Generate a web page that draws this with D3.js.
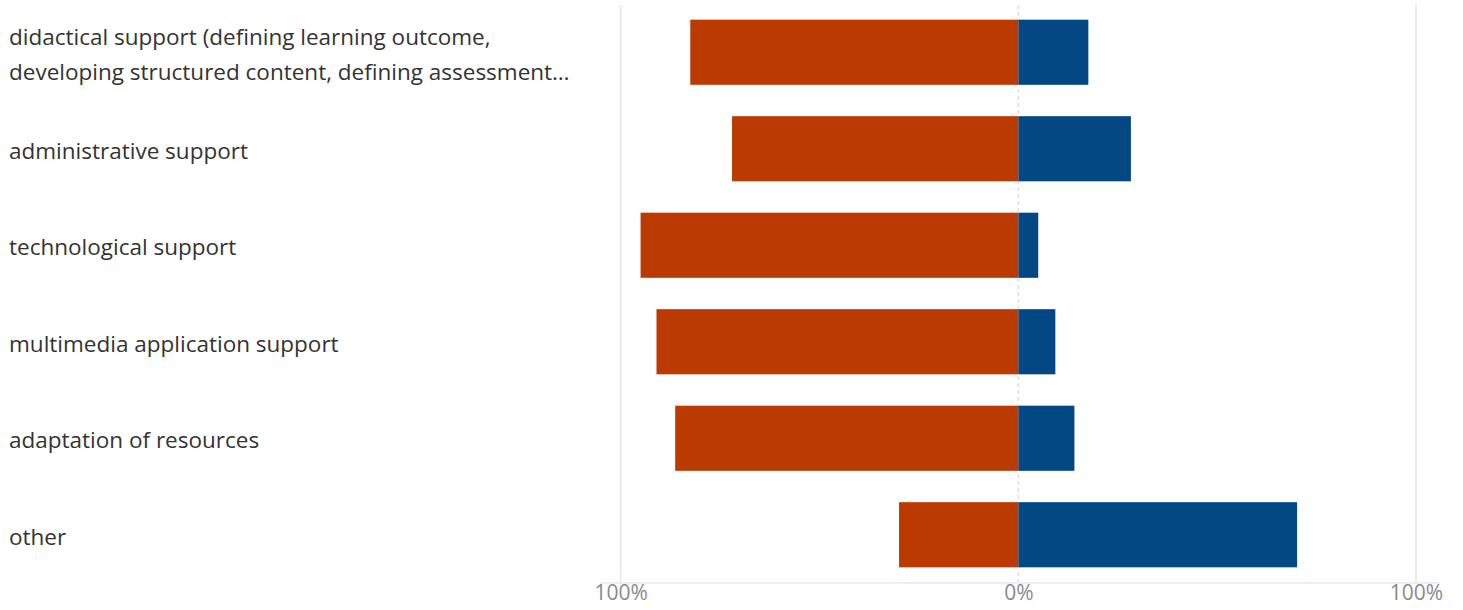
<!DOCTYPE html>
<html>
<head>
<meta charset="utf-8">
<script src="https://cdn.jsdelivr.net/npm/d3@7"></script>
<style>
  html, body { margin: 0; padding: 0; background: #fff; }
  svg { display: block; }
</style>
</head>
<body>
<svg id="chart" width="1463" height="610"></svg>
<script>
// Support categories (top to bottom)
const categories = [
  ["didactical support (defining learning outcome,", "developing structured content, defining assessment\u2026"],
  ["administrative support"],
  ["technological support"],
  ["multimedia application support"],
  ["adaptation of resources"],
  ["other"]
];
// Share of responses drawn to the left (negative side) and right (positive side), in %
const leftValues  = [82.5, 72, 95, 91, 86.3, 30];
const rightValues = [17.6, 28.3, 5, 9.3, 14.1, 70.1];
const tickValues = [-100, 0, 100];
const tickLabels = ["100%", "0%", "100%"];

const svg = d3.select("#chart");
const plot = { left: 620.7, right: 1416, top: 4, bottom: 583 };

const x = d3.scaleLinear().domain([-100, 100]).range([plot.left, plot.right]);
const y = d3.scaleBand()
  .domain(d3.range(categories.length))
  .range([plot.top, plot.bottom])
  .paddingInner(0.325)
  .paddingOuter(0.1625);

// vertical grid lines
svg.append("g").selectAll("line")
  .data(tickValues)
  .join("line")
  .attr("x1", d => x(d)).attr("x2", d => x(d))
  .attr("y1", 5).attr("y2", plot.bottom)
  .attr("stroke", d => d === 0 ? "#e6e6e6" : "#ebebeb")
  .attr("stroke-width", 2)
  .attr("stroke-dasharray", d => d === 0 ? "4,3" : null);

// bottom axis
const axis = svg.append("g")
  .attr("transform", `translate(0,${plot.bottom})`)
  .call(d3.axisBottom(x).tickValues(tickValues)
    .tickFormat((d, i) => tickLabels[i]).tickSize(0).tickPadding(2));
axis.select(".domain").attr("stroke", "#eeeeee").attr("stroke-width", 2)
  .attr("d", `M600,0H1440`);
axis.selectAll("text")
  .attr("fill", "#8a8a8a")
  .attr("font-family", "'Open Sans', 'Noto Sans', sans-serif")
  .attr("font-size", 21)
  .attr("dy", "0.71em");

// left (orange) bars
svg.append("g").selectAll("rect")
  .data(leftValues)
  .join("rect")
  .attr("x", d => x(-d))
  .attr("y", (d, i) => y(i))
  .attr("width", d => x(0) - x(-d))
  .attr("height", y.bandwidth())
  .attr("fill", "#bb3a02");

// right (blue) bars
svg.append("g").selectAll("rect")
  .data(rightValues)
  .join("rect")
  .attr("x", x(0))
  .attr("y", (d, i) => y(i))
  .attr("width", d => x(d) - x(0))
  .attr("height", y.bandwidth())
  .attr("fill", "#034882");

// category labels
const labels = svg.append("g")
  .attr("font-family", "'Open Sans', 'Noto Sans', sans-serif")
  .attr("font-size", 22.5)
  .attr("fill", "#333333");
categories.forEach((lines, i) => {
  const cy = y(i) + y.bandwidth() / 2 + 2;
  const lh = 35;
  const t = labels.append("text")
    .attr("x", 9)
    .attr("y", cy - (lines.length - 1) * lh / 2);
  lines.forEach((ln, j) => {
    t.append("tspan").attr("x", 9).attr("dy", j === 0 ? "0.35em" : lh).text(ln);
  });
});
</script>
</body>
</html>
